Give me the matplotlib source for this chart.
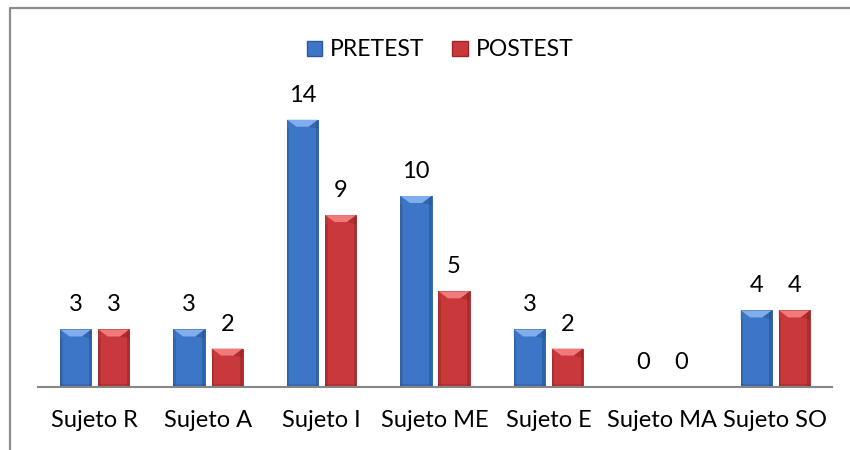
import matplotlib
matplotlib.use("Agg")
import matplotlib.pyplot as plt
from matplotlib.patches import Patch, Polygon, Rectangle
from matplotlib.lines import Line2D
import numpy as np

categories = ["Sujeto R", "Sujeto A", "Sujeto I", "Sujeto ME", "Sujeto E", "Sujeto MA", "Sujeto SO"]
pretest = [3, 3, 14, 10, 3, 0, 4]
postest = [3, 2, 9, 5, 2, 0, 4]
series_names = ["PRETEST", "POSTEST"]

plt.rcParams['font.family'] = ['Lato', 'DejaVu Sans']

W, H = 850, 450
fig = plt.figure(figsize=(W / 100, H / 100), dpi=100)
fig.patch.set_facecolor('white')

ax_left, ax_right = 38 / W, 832 / W
ax_bottom = (H - 386.7) / H
ax_top = (H - 81.6) / H
ax = fig.add_axes([ax_left, ax_bottom, ax_right - ax_left, ax_top - ax_bottom])

x = np.arange(len(categories))
bw = 0.275
off = 0.168

colors = {
    "PRETEST": dict(main="#3D76C6", light="#7FAEEA", dark="#1F4F8F", edge="#2A5A9E"),
    "POSTEST": dict(main="#C9383A", light="#F07A7A", dark="#8E1E20", edge="#9E2628"),
}

px_per_unit = (386.7 - 81.6) / 16.0

def draw_bars(xs, vals, c):
    bars = ax.bar(xs, vals, width=bw, color=c["main"], edgecolor=c["edge"], linewidth=0.6, zorder=2)
    for b in bars:
        h = b.get_height()
        if h <= 0:
            continue
        x0 = b.get_x(); w = b.get_width()
        bev_y = 7 / px_per_unit
        bev_x = w * 0.30
        side = w * 0.08
        ax.add_patch(Rectangle((x0, 0), side, h, facecolor=c["dark"], alpha=0.35, lw=0, zorder=3))
        ax.add_patch(Rectangle((x0 + w - side, 0), side, h, facecolor=c["dark"], alpha=0.45, lw=0, zorder=3))
        ax.add_patch(Rectangle((x0, 0), w, min(h, 3 / px_per_unit), facecolor=c["dark"], alpha=0.3, lw=0, zorder=3))
        top = Polygon([(x0, h), (x0 + w, h), (x0 + w - bev_x, h - bev_y), (x0 + bev_x, h - bev_y)],
                      closed=True, facecolor=c["light"], lw=0, zorder=4)
        ax.add_patch(top)
        ax.add_patch(Polygon([(x0, h), (x0 + bev_x, h - bev_y), (x0, h - bev_y * 1.3)], closed=True,
                             facecolor=c["main"], alpha=0.6, lw=0, zorder=4))
        ax.add_patch(Polygon([(x0 + w, h), (x0 + w - bev_x, h - bev_y), (x0 + w, h - bev_y * 1.3)], closed=True,
                             facecolor=c["dark"], alpha=0.4, lw=0, zorder=4))
    for xi, v in zip(xs, vals):
        ax.annotate(str(v), (xi, v), xytext=(0, 13), textcoords='offset points',
                    ha='center', va='baseline', fontsize=17, color='black', zorder=5)

draw_bars(x - off, pretest, colors["PRETEST"])
draw_bars(x + off, postest, colors["POSTEST"])

ax.set_xlim(-0.5, len(categories) - 0.5)
ax.set_ylim(0, 16)
ax.set_xticks(x)
ax.set_xticklabels(categories, fontsize=17)
ax.tick_params(axis='x', length=0, pad=17)
ax.set_yticks([])
for s in ['top', 'right', 'left']:
    ax.spines[s].set_visible(False)
ax.spines['bottom'].set_color('#868686')
ax.spines['bottom'].set_linewidth(1.5)
ax.spines['bottom'].set_zorder(6)
ax.patch.set_alpha(0)

handles = [Patch(facecolor=colors[n]["main"], edgecolor=colors[n]["edge"]) for n in series_names]
fig.legend(handles, series_names, loc='center', bbox_to_anchor=(440 / W, 1 - 50 / H), ncol=2,
           frameon=False, fontsize=16.5, handlelength=0.68, handleheight=0.68,
           handletextpad=0.35, columnspacing=1.2)

fig.add_artist(Line2D([9.5 / W, 9.5 / W, 1.0], [0, 1 - 7.5 / H, 1 - 7.5 / H],
                      transform=fig.transFigure, color='#8C8C8C', lw=1.6))

fig.savefig("out.png", dpi=100)
